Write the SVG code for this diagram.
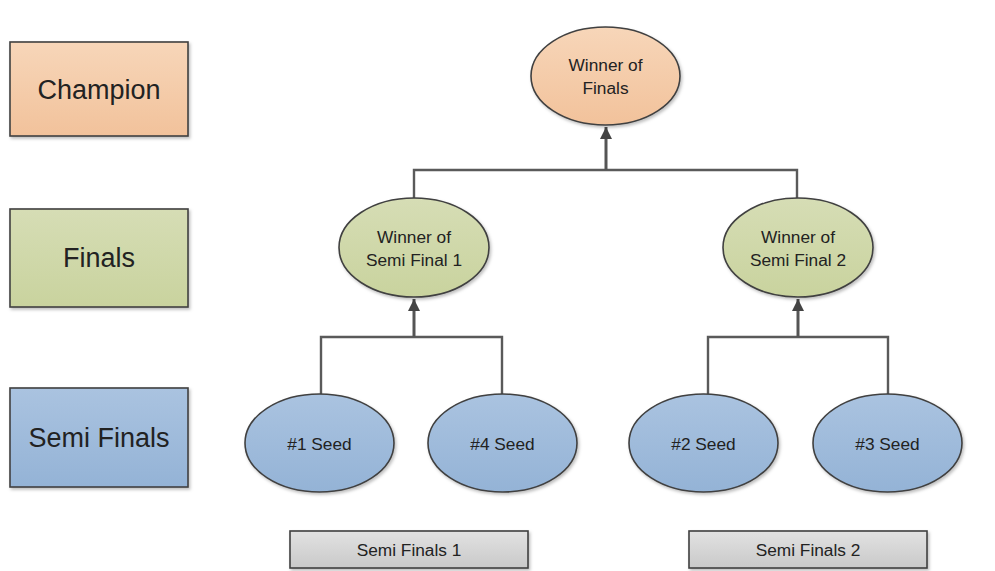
<svg xmlns="http://www.w3.org/2000/svg" width="995" height="571" viewBox="0 0 995 571">
<style>
  text { font-family: "Liberation Sans", Arial, sans-serif; fill: #222; text-anchor: middle; }
  .big { font-size: 27px; }
  .sm { font-size: 17.3px; }
  .shape { stroke: #404040; stroke-width: 1.6; }
  .conn { fill: none; stroke: #5a5a5a; stroke-width: 2.4; }
  .stem { fill: none; stroke: #555; stroke-width: 3; }
</style>
<defs>
  <linearGradient id="gPeach" x1="0" y1="0" x2="0" y2="1">
    <stop offset="0" stop-color="#f7d6b9"/><stop offset="1" stop-color="#f2c29b"/>
  </linearGradient>
  <linearGradient id="gGreen" x1="0" y1="0" x2="0" y2="1">
    <stop offset="0" stop-color="#d6ddb5"/><stop offset="1" stop-color="#c9d39e"/>
  </linearGradient>
  <linearGradient id="gBlue" x1="0" y1="0" x2="0" y2="1">
    <stop offset="0" stop-color="#aac3e0"/><stop offset="1" stop-color="#94b3d6"/>
  </linearGradient>
  <linearGradient id="gGray" x1="0" y1="0" x2="0" y2="1">
    <stop offset="0" stop-color="#e2e2e2"/><stop offset="1" stop-color="#c9c9c9"/>
  </linearGradient>
  <filter id="sh" x="-10%" y="-10%" width="130%" height="130%">
    <feDropShadow dx="1.5" dy="2" stdDeviation="1.5" flood-color="#000" flood-opacity="0.25"/>
  </filter>
  <marker id="arr" viewBox="0 0 10 10" refX="10" refY="5" markerWidth="4" markerHeight="4" orient="auto" markerUnits="strokeWidth">
    <path d="M0,0 L10,5 L0,10 z" fill="#444"/>
  </marker>
</defs>

<g id="connectors">
  <path class="conn" d="M414,198 V170 H797 V198"/>
  <path class="stem" d="M606,170 V127" marker-end="url(#arr)"/>
  <path class="conn" d="M321,394 V337 H502 V394"/>
  <path class="stem" d="M414,337 V299" marker-end="url(#arr)"/>
  <path class="conn" d="M708,394 V337 H888 V394"/>
  <path class="stem" d="M798,337 V299" marker-end="url(#arr)"/>
</g>

<g id="legend-champion">
  <rect class="shape" x="10" y="42" width="178" height="94" fill="url(#gPeach)" filter="url(#sh)"/>
  <text class="big" x="99" y="99">Champion</text>
</g>
<g id="legend-finals">
  <rect class="shape" x="10" y="209" width="178" height="98" fill="url(#gGreen)" filter="url(#sh)"/>
  <text class="big" x="99" y="267">Finals</text>
</g>
<g id="legend-semifinals">
  <rect class="shape" x="10" y="388" width="178" height="99" fill="url(#gBlue)" filter="url(#sh)"/>
  <text class="big" x="99" y="447">Semi Finals</text>
</g>

<g id="winner-finals">
  <ellipse class="shape" cx="605.5" cy="76" rx="74.5" ry="49" fill="url(#gPeach)" filter="url(#sh)"/>
  <text class="sm" x="605.5" y="71">Winner of</text>
  <text class="sm" x="605.5" y="94">Finals</text>
</g>
<g id="winner-sf1">
  <ellipse class="shape" cx="414" cy="247.5" rx="75" ry="49.5" fill="url(#gGreen)" filter="url(#sh)"/>
  <text class="sm" x="414" y="243">Winner of</text>
  <text class="sm" x="414" y="266">Semi Final 1</text>
</g>
<g id="winner-sf2">
  <ellipse class="shape" cx="798" cy="247.5" rx="75" ry="49.5" fill="url(#gGreen)" filter="url(#sh)"/>
  <text class="sm" x="798" y="243">Winner of</text>
  <text class="sm" x="798" y="266">Semi Final 2</text>
</g>

<g id="seed1">
  <ellipse class="shape" cx="319.5" cy="443" rx="74.5" ry="49" fill="url(#gBlue)" filter="url(#sh)"/>
  <text class="sm" x="319.5" y="450">#1 Seed</text>
</g>
<g id="seed4">
  <ellipse class="shape" cx="502.5" cy="443" rx="74.5" ry="49" fill="url(#gBlue)" filter="url(#sh)"/>
  <text class="sm" x="502.5" y="450">#4 Seed</text>
</g>
<g id="seed2">
  <ellipse class="shape" cx="703.5" cy="443" rx="74.5" ry="49" fill="url(#gBlue)" filter="url(#sh)"/>
  <text class="sm" x="703.5" y="450">#2 Seed</text>
</g>
<g id="seed3">
  <ellipse class="shape" cx="887.5" cy="443" rx="74.5" ry="49" fill="url(#gBlue)" filter="url(#sh)"/>
  <text class="sm" x="887.5" y="450">#3 Seed</text>
</g>

<g id="label-sf1">
  <rect class="shape" x="290" y="531" width="238" height="37" fill="url(#gGray)" filter="url(#sh)"/>
  <text class="sm" x="409" y="556">Semi Finals 1</text>
</g>
<g id="label-sf2">
  <rect class="shape" x="689" y="531" width="238" height="37" fill="url(#gGray)" filter="url(#sh)"/>
  <text class="sm" x="808" y="556">Semi Finals 2</text>
</g>
</svg>
